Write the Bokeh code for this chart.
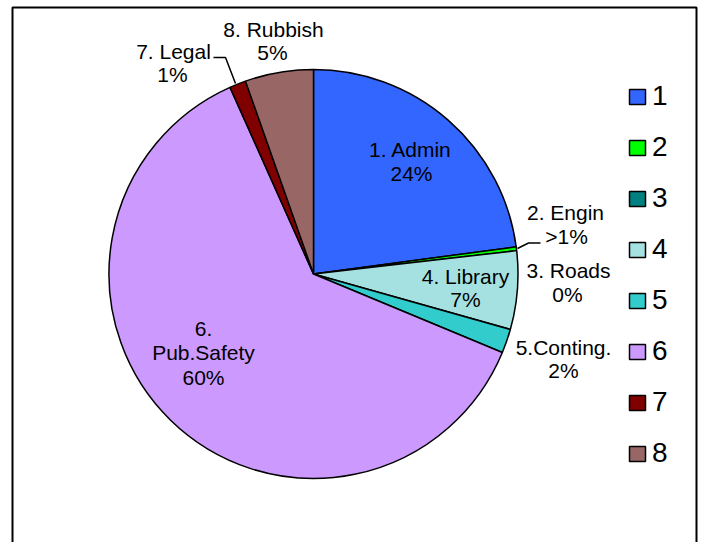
import numpy as np
from bokeh.plotting import figure
from bokeh.models import ColumnDataSource, Range1d, Legend, LegendItem
from bokeh.core.properties import value
from bokeh.embed import file_html
from bokeh.resources import INLINE

# ---------------- data ----------------
categories = ["1. Admin", "2. Engin", "3. Roads", "4. Library", "5.Conting.",
              "6. Pub.Safety", "7. Legal", "8. Rubbish"]
legend_labels = ["1", "2", "3", "4", "5", "6", "7", "8"]
shares = [22.9, 0.3, 0.0, 6.2, 1.9, 62.1, 1.3, 5.4]
pct_labels = ["24%", ">1%", "0%", "7%", "2%", "60%", "1%", "5%"]
colors = ["#3366FF", "#00FF00", "#008080", "#A6E1E1", "#33CCCC",
          "#CC99FF", "#800000", "#996666"]

# ---------------- layout (data coordinates = page pixels, y flipped) ----------------
W, H = 701, 542


def Y(py):
    return H - py


CX, CY, R = 313, Y(273.5), 204.5

vals = np.array(shares, dtype=float)
frac = vals / vals.sum()
cum_after = np.cumsum(frac)
cum_before = cum_after - frac
start = np.pi / 2 - 2 * np.pi * cum_before
end = np.pi / 2 - 2 * np.pi * cum_after
nz = vals > 0

wedge_src = ColumnDataSource(dict(
    cat=[c for c, k in zip(categories, nz) if k],
    start=start[nz], end=end[nz],
    color=[c for c, k in zip(colors, nz) if k]))

p = figure(width=W, height=H, output_backend="svg", toolbar_location=None,
           x_axis_type=None, y_axis_type=None,
           x_range=Range1d(0, W), y_range=Range1d(0, H),
           min_border_left=0, min_border_right=0,
           min_border_top=0, min_border_bottom=0)
p.grid.visible = False
p.outline_line_color = None
p.background_fill_color = "white"
p.border_fill_color = "white"

# chart border (left, top, right edges; bottom runs off the page)
p.line(x=[12, 12, 696, 696], y=[Y(560), Y(7), Y(7), Y(560)],
       line_color="black", line_width=2)

p.wedge(x=CX, y=CY, radius=R, start_angle="start", end_angle="end",
        direction="clock", fill_color="color", line_color="black",
        line_width=1.5, source=wedge_src)

# legend proxy (zero-size swatches at the pie centre)
leg_src = ColumnDataSource(dict(l=[CX] * 8, r=[CX] * 8, t=[CY] * 8, b=[CY] * 8,
                                color=colors))
proxy = p.quad(left="l", right="r", top="t", bottom="b", fill_color="color",
               line_color="black", line_width=1.5, source=leg_src)

# slice labels: (line texts, center x, baselines in page px)
label_layout = [
    (["1. Admin", "24%"], [410, 411], [157, 181]),
    (["2. Engin", ">1%"], [565, 566], [220, 244]),
    (["3. Roads", "0%"], [568, 567], [278, 302]),
    (["4. Library", "7%"], [465, 465], [284, 307]),
    (["5.Conting.", "2%"], [563, 563], [355, 378]),
    (["6.", "Pub.Safety", "60%"], [203, 203, 203], [336, 360, 385]),
    (["7. Legal", "1%"], [173, 172], [59, 82]),
    (["8. Rubbish", "5%"], [273, 272], [37, 60]),
]
SHIFT = 8  # renderer draws alphabetic baseline slightly lower
tx, ty, tt = [], [], []
for lines, xs, bls in label_layout:
    for t, x, b in zip(lines, xs, bls):
        tx.append(x)
        ty.append(Y(b - SHIFT))
        tt.append(t)
p.text(x=tx, y=ty, text=tt, text_align="center", text_baseline="alphabetic",
       text_font=value("Liberation Sans"), text_font_size="21px",
       text_color="black")

# leader lines
p.line(x=[213, 225, 235], y=[Y(57), Y(57), Y(83)], line_color="black", line_width=1.5)
p.line(x=[517, 528, 540], y=[Y(248), Y(242.5), Y(242.5)], line_color="black", line_width=1.5)

# legend
items = [LegendItem(label=legend_labels[i], renderers=[proxy], index=i)
         for i in range(len(legend_labels))]
legend = Legend(items=items, location=(627, 73),
                glyph_width=20, glyph_height=19, label_height=32,
                spacing=19, padding=0, margin=0, label_standoff=5,
                label_text_font="Liberation Sans", label_text_font_size="28px",
                label_text_color="black",
                border_line_color=None, background_fill_alpha=0)
p.add_layout(legend)

open("out.html", "w").write(file_html(p, INLINE))
